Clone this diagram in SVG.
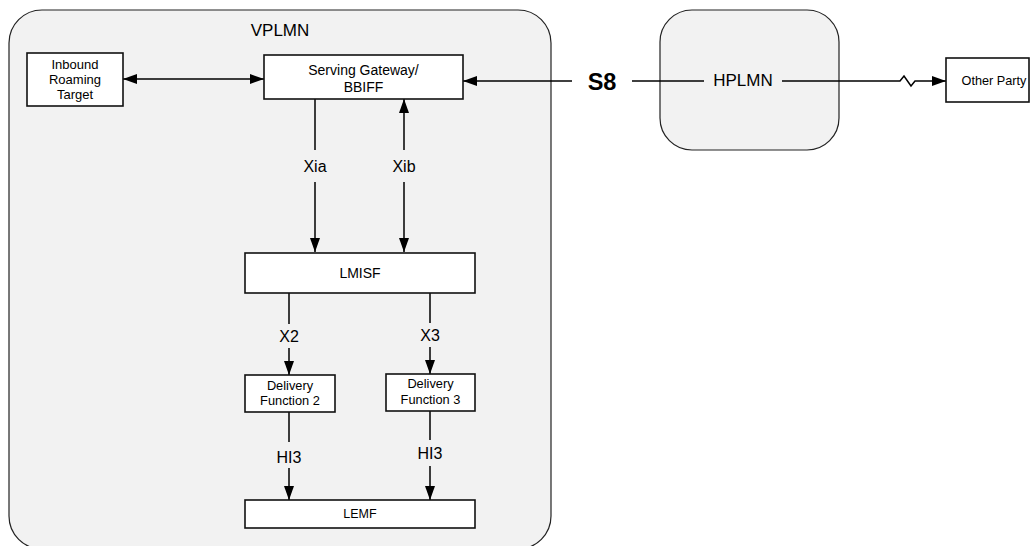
<svg xmlns="http://www.w3.org/2000/svg" width="1032" height="546" viewBox="0 0 1032 546">
<style>
text{font-family:"Liberation Sans",Arial,sans-serif;fill:#000;text-anchor:middle}
.cont{fill:#f2f2f2;stroke:#222;stroke-width:1.2}
.box{fill:#fff;stroke:#111;stroke-width:1.6}
.ln{stroke:#000;stroke-width:1.5;fill:none}
.lbl{font-size:16px}
.big{font-size:17px}
</style>
<defs>
<marker id="ah" markerUnits="userSpaceOnUse" markerWidth="14" markerHeight="10" refX="14" refY="5" orient="auto-start-reverse" viewBox="0 0 14 10">
<path d="M0,0 L14,5 L0,10 z" fill="#000"/>
</marker>
</defs>
<g id="vplmn"><rect class="cont" x="9" y="10" width="542" height="539" rx="33" ry="33"/><text class="big" x="280" y="36">VPLMN</text></g>
<g id="hplmn"><rect class="cont" x="660" y="10" width="179" height="140" rx="32" ry="32"/></g>
<g id="connectors">
<line class="ln" x1="123" y1="79" x2="264" y2="79" marker-start="url(#ah)" marker-end="url(#ah)"/>
<line class="ln" x1="572" y1="81" x2="463" y2="81" marker-end="url(#ah)"/>
<line class="ln" x1="632" y1="81" x2="704" y2="81"/>
<polyline class="ln" points="782,81 900,81 904,76 911,86 915,81 946,81" marker-end="url(#ah)"/>
<line class="ln" x1="315" y1="99" x2="315" y2="150"/>
<line class="ln" x1="315" y1="182" x2="315" y2="252" marker-end="url(#ah)"/>
<line class="ln" x1="404" y1="150" x2="404" y2="99" marker-end="url(#ah)"/>
<line class="ln" x1="404" y1="182" x2="404" y2="252" marker-end="url(#ah)"/>
<line class="ln" x1="289" y1="293" x2="289" y2="324"/>
<line class="ln" x1="289" y1="348" x2="289" y2="375" marker-end="url(#ah)"/>
<line class="ln" x1="430" y1="293" x2="430" y2="323"/>
<line class="ln" x1="430" y1="347" x2="430" y2="374" marker-end="url(#ah)"/>
<line class="ln" x1="289" y1="412" x2="289" y2="442"/>
<line class="ln" x1="289" y1="468" x2="289" y2="500" marker-end="url(#ah)"/>
<line class="ln" x1="430" y1="411" x2="430" y2="440"/>
<line class="ln" x1="430" y1="466" x2="430" y2="500" marker-end="url(#ah)"/>
<text x="602" y="89.5" style="font-size:23.5px;font-weight:bold">S8</text>
<text class="lbl" x="315" y="171.5">Xia</text>
<text class="lbl" x="404" y="171.5">Xib</text>
<text class="lbl" x="289" y="342">X2</text>
<text class="lbl" x="430" y="341">X3</text>
<text class="lbl" x="289" y="463">HI3</text>
<text class="lbl" x="430" y="459">HI3</text>
</g>
<g id="hplmn-label"><text class="big" x="743" y="86">HPLMN</text></g>
<g id="inbound"><rect class="box" x="27" y="53" width="96" height="53"/><text x="75" y="68.5" style="font-size:13px">Inbound</text><text x="75" y="84" style="font-size:13px">Roaming</text><text x="75" y="99" style="font-size:13px">Target</text></g>
<g id="sgw"><rect class="box" x="264" y="55" width="199" height="44"/><text x="363.5" y="74.5" style="font-size:14px">Serving Gateway/</text><text x="363.5" y="92" style="font-size:14px">BBIFF</text></g>
<g id="lmisf"><rect class="box" x="245" y="253" width="230" height="40"/><text x="360" y="278" style="font-size:14px">LMISF</text></g>
<g id="df2"><rect class="box" x="245" y="375" width="90" height="37"/><text x="290" y="389.5" style="font-size:12.8px">Delivery</text><text x="290" y="404.5" style="font-size:12.8px">Function 2</text></g>
<g id="df3"><rect class="box" x="386" y="374" width="89" height="37"/><text x="430.5" y="388" style="font-size:12.8px">Delivery</text><text x="430.5" y="403.5" style="font-size:12.8px">Function 3</text></g>
<g id="lemf"><rect class="box" x="245" y="500" width="230" height="28"/><text x="360" y="518" style="font-size:12.5px">LEMF</text></g>
<g id="other"><rect class="box" x="946" y="58" width="83" height="44"/><text x="994" y="84.5" style="font-size:12.7px">Other Party</text></g>
</svg>
